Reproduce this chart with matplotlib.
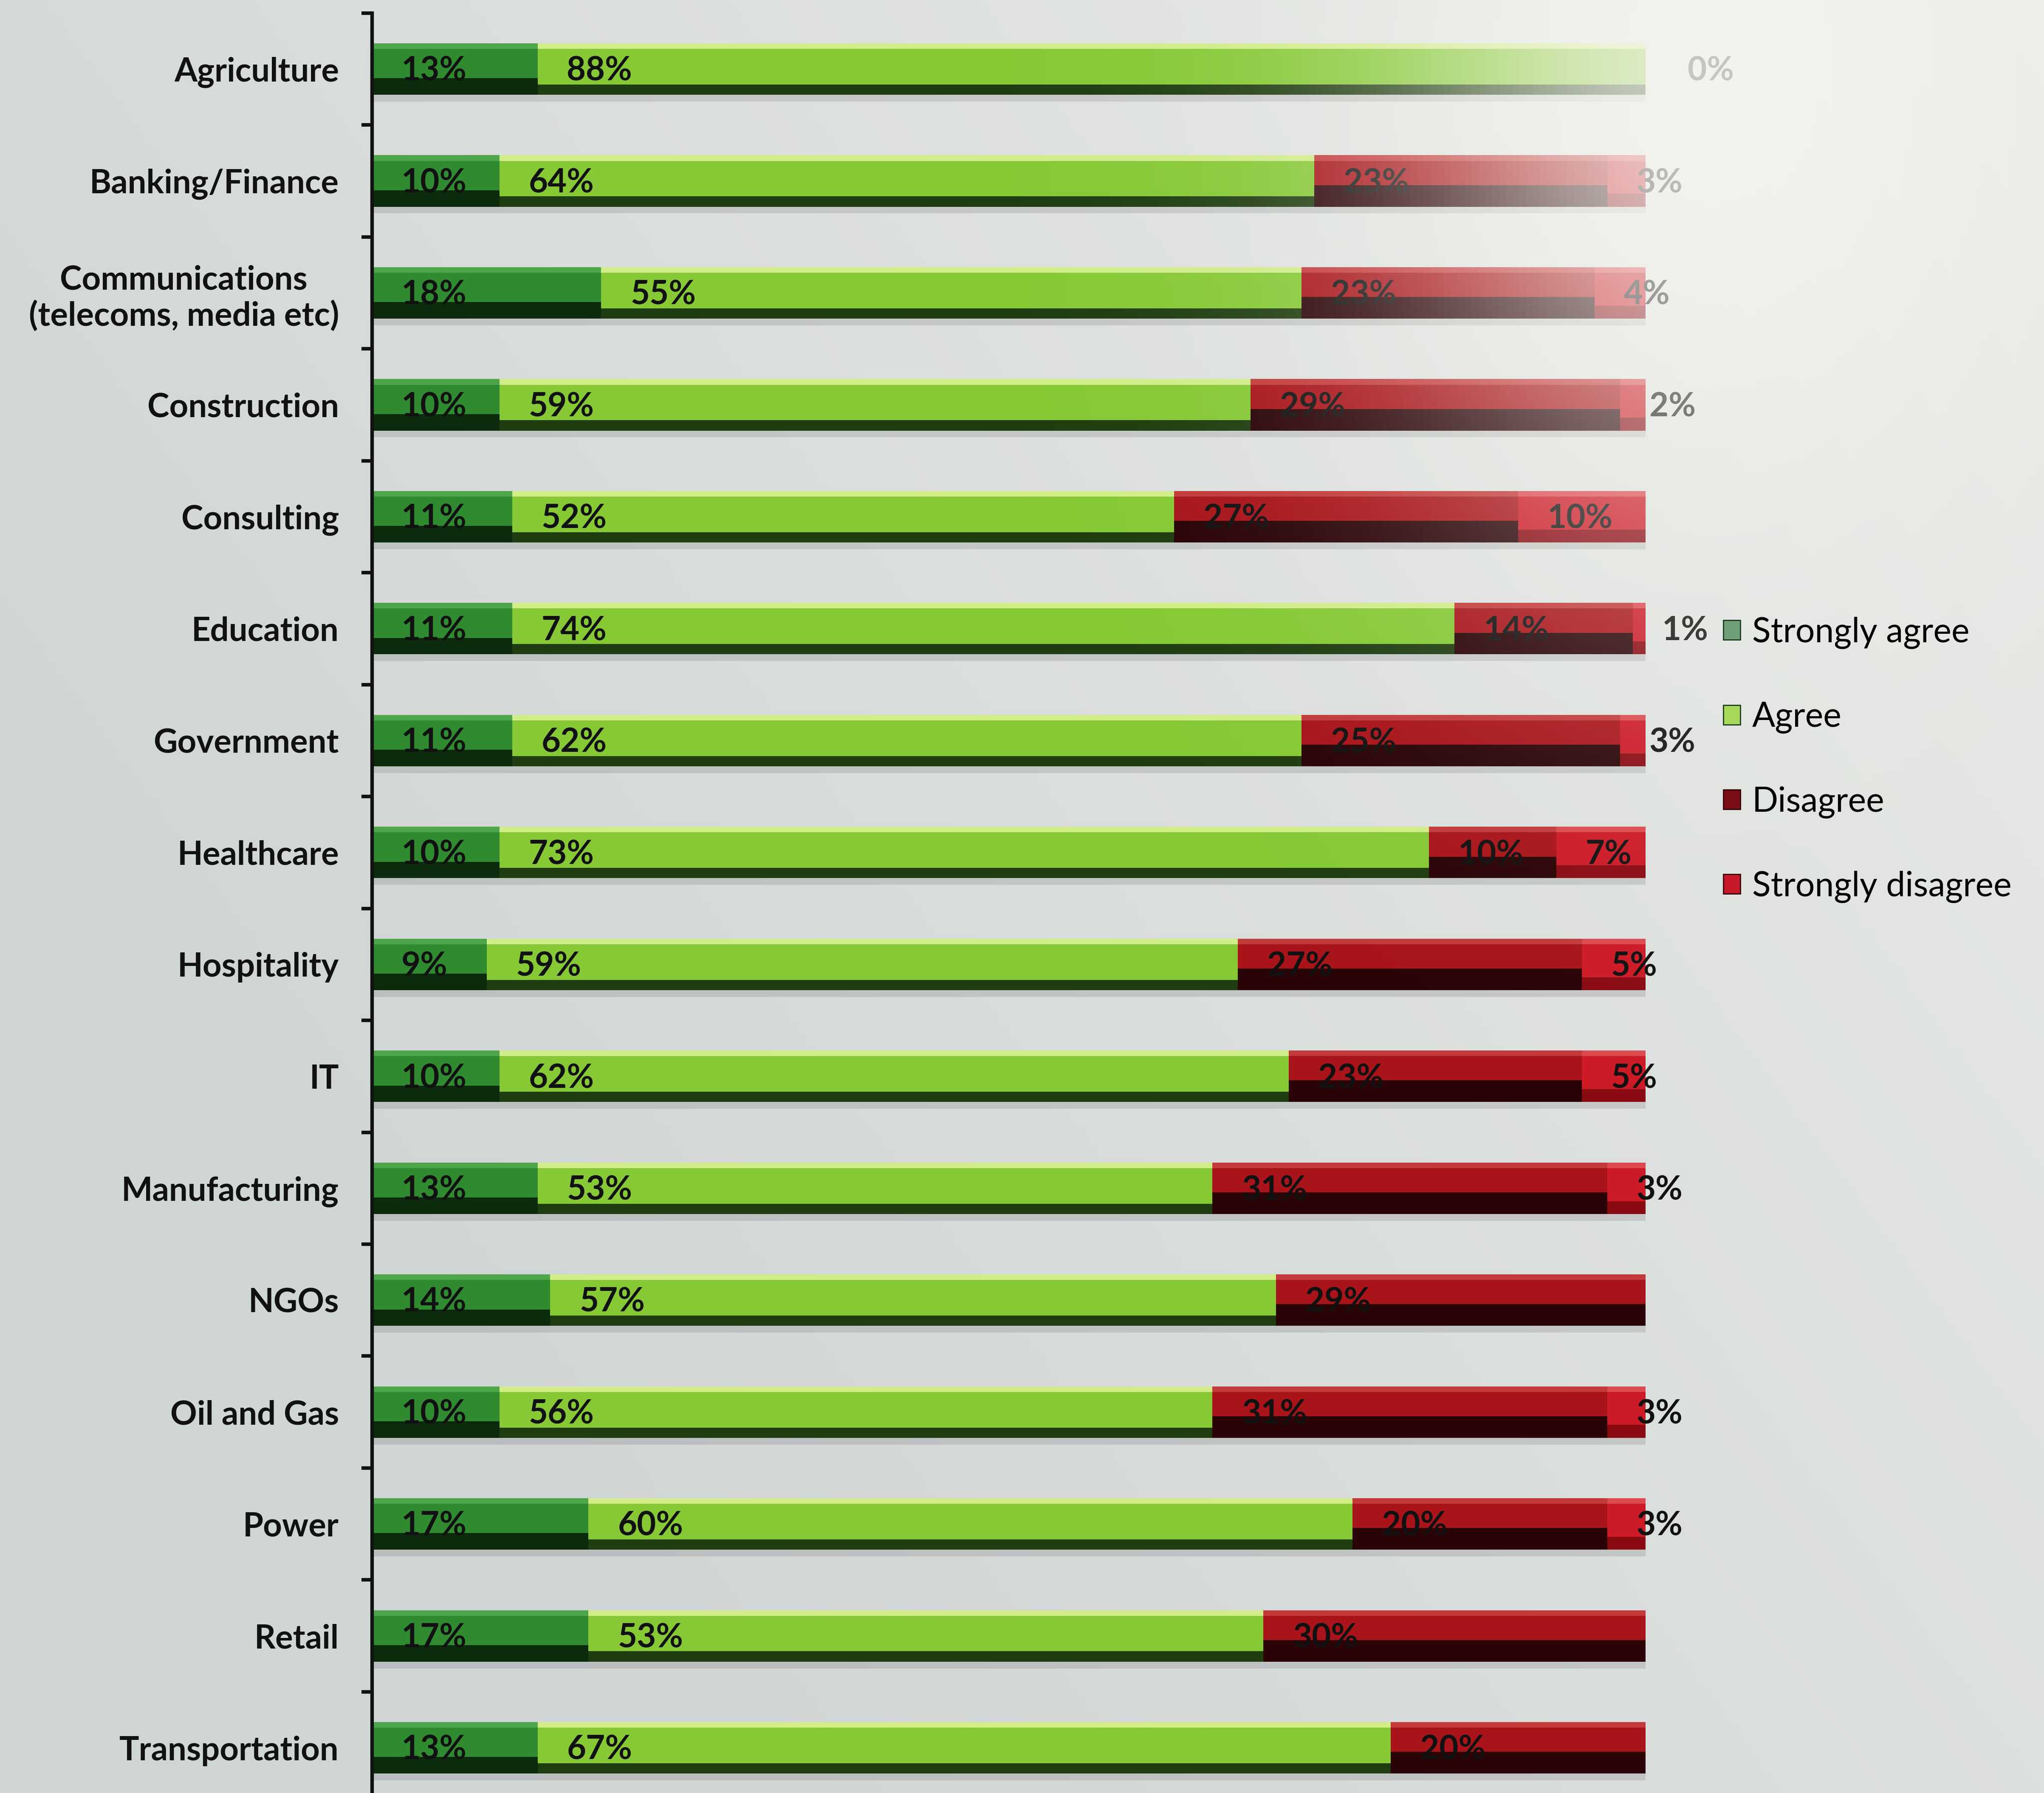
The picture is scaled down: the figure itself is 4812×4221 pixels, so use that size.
import numpy as np
import matplotlib.pyplot as plt
from matplotlib.patches import Patch

categories = ['Agriculture', 'Banking/Finance', 'Communications\n(telecoms, media etc)',
              'Construction', 'Consulting', 'Education', 'Government', 'Healthcare',
              'Hospitality', 'IT', 'Manufacturing', 'NGOs', 'Oil and Gas', 'Power',
              'Retail', 'Transportation']
strongly_agree = [13, 10, 18, 10, 11, 11, 11, 10, 9, 10, 13, 14, 10, 17, 17, 13]
agree = [88, 64, 55, 59, 52, 74, 62, 73, 59, 62, 53, 57, 56, 60, 53, 67]
disagree = [0, 23, 23, 29, 27, 14, 25, 10, 27, 23, 31, 29, 31, 20, 30, 20]
strongly_disagree = [0, 3, 4, 2, 10, 1, 3, 7, 5, 5, 3, 0, 3, 3, 0, 0]
series_names = ['Strongly agree', 'Agree', 'Disagree', 'Strongly disagree']

# (body, top highlight, lower shade, share of bar height in shade) per series
shades = [('#2f8a30', '#4fa64a', '#0c2a0c', 0.32),
          ('#86c935', '#d2ec8a', '#1f3d10', 0.2),
          ('#a8141a', '#c23a3a', '#2a0306', 0.42),
          ('#cc1a26', '#dc4a50', '#8a0a12', 0.25)]
legend_colors = ['#6f9f78', '#a6d95a', '#7a0e16', '#c8182a']

plt.rcParams['font.family'] = ['Lato', 'DejaVu Sans']

fig = plt.figure(figsize=(48.12, 42.21), dpi=100)

# background wash, greyer on the left and lighter toward the top right
bg = fig.add_axes([0, 0, 1, 1], zorder=0)
gx, gy = np.meshgrid(np.linspace(0, 1, 300), np.linspace(1, 0, 300))
t = np.clip(gx * 0.7 + gy * 0.45 - 0.25, 0, 1)
lo = np.array([208, 213, 213]) / 255
hi = np.array([236, 238, 233]) / 255
bg.imshow(lo + (hi - lo) * t[..., None], extent=(0, 1, 0, 1), aspect='auto')
bg.axis('off')

ax = fig.add_axes([0.182, -0.006, 0.623, 0.9987], zorder=2)
ax.set_facecolor('none')

y = np.arange(len(categories))
h = 0.46
data = [strongly_agree, agree, disagree, strongly_disagree]
left = np.zeros(len(categories))
for vals, (body, top, low, frac) in zip(data, shades):
    vals = np.array(vals, dtype=float)
    body_h = h * (1 - frac)
    # soft shadow under the bar
    ax.barh(y + 0.06, vals, height=h, left=left, color='#5a5a5a', alpha=0.18, linewidth=0)
    ax.barh(y, vals, height=h, left=left, color=low, linewidth=0)
    ax.barh(y - h / 2 + body_h / 2, vals, height=body_h, left=left, color=body, linewidth=0)
    ax.barh(y - h / 2 + 0.025, vals, height=0.05, left=left, color=top, linewidth=0)
    left += vals

# value labels sit just inside the start of each segment
start = np.zeros(len(categories))
for k, vals in enumerate(data):
    for i, v in enumerate(vals):
        if v > 0 or k == 2:
            ax.text(start[i] + 2.3, i + 0.02, f'{v}%', ha='left', va='center',
                    fontsize=56, fontweight='bold', color='#111111', clip_on=False)
    start += np.array(vals)

ax.set_xlim(0, 100)
ax.set_ylim(len(categories) - 0.5, -0.5)
ax.set_xticks([])
ax.set_yticks(y)
ax.set_yticklabels(categories, fontsize=56, fontweight='bold', color='#111111',
                   multialignment='center')
ax.set_yticks(np.arange(-0.5, len(categories), 1), minor=True)
ax.tick_params(axis='y', which='major', length=0, pad=56)
ax.tick_params(axis='y', which='minor', length=18, width=6, color='#111111')
for s in ['top', 'right', 'bottom']:
    ax.spines[s].set_visible(False)
ax.spines['left'].set_linewidth(6)
ax.spines['left'].set_color('#111111')

handles = [Patch(facecolor=c, edgecolor='#1a3a1a' if i < 2 else '#300000', linewidth=2)
           for i, c in enumerate(legend_colors)]
fig.legend(handles, series_names, loc='upper left', bbox_to_anchor=(0.843, 0.656),
           frameon=False, fontsize=58, handlelength=0.5, handleheight=0.5,
           handletextpad=0.35, labelspacing=1.53, borderpad=0, borderaxespad=0)

# glare washing out the upper right of the bars
haze = fig.add_axes([0, 0, 1, 1], zorder=5)
a = 0.8 * np.exp(-((gx - 0.84) / 0.16) ** 2 - ((gy - 0.96) / 0.26) ** 2)
glow = np.dstack([np.full_like(a, 0.965), np.full_like(a, 0.965), np.full_like(a, 0.945), a])
haze.imshow(glow, extent=(0, 1, 0, 1), aspect='auto')
haze.axis('off')

fig.savefig('out.png', dpi=100)
